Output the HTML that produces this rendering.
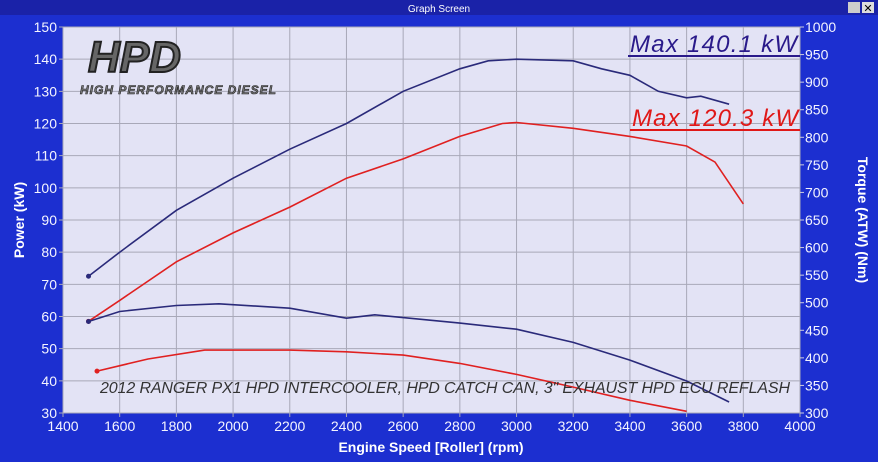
<!DOCTYPE html>
<html><head><meta charset="utf-8"><style>
body{margin:0;width:878px;height:466px;overflow:hidden;background:#fff;font-family:"Liberation Sans",sans-serif}
svg{display:block}
</style></head><body>
<svg id="chart" width="878" height="466">
<rect x="0" y="0" width="878" height="462" fill="#1c2fd0"/>
<rect x="0" y="0" width="878" height="15" fill="#1a22a8"/>
<text x="439" y="12" font-size="10" fill="#fff" text-anchor="middle">Graph Screen</text>
<rect x="848" y="2" width="12" height="11" fill="#ccc"/>
<rect x="862" y="2" width="12" height="11" fill="#ddd"/>
<text x="868" y="12" font-size="11" text-anchor="middle" fill="#000">✕</text>
<rect x="63" y="27" width="737" height="386" fill="#e3e3f5"/>
<g id="grid"></g>
<g id="logo">
<text x="88" y="72" font-size="44" font-weight="bold" font-style="italic" fill="#666" stroke="#222" stroke-width="2">HPD</text>
<text x="80" y="94" font-size="12" font-weight="bold" font-style="italic" fill="#777" stroke="#222" stroke-width="0.6" letter-spacing="1">HIGH PERFORMANCE DIESEL</text>
</g>
<g id="series"></g>
<text x="630" y="52" font-size="24" font-style="italic" fill="#2a1a8a" textLength="167">Max 140.1 kW</text>
<line x1="628" y1="56" x2="800" y2="56" stroke="#2a1a8a" stroke-width="2"/>
<text x="632" y="126" font-size="24" font-style="italic" fill="#e01818" textLength="166">Max 120.3 kW</text>
<line x1="630" y1="130" x2="800" y2="130" stroke="#e01818" stroke-width="2"/>
<text x="100" y="393" font-size="16" font-style="italic" fill="#333" textLength="690">2012 RANGER PX1 HPD INTERCOOLER, HPD CATCH CAN, 3" EXHAUST HPD ECU REFLASH</text>
<g id="axes"></g>
<text x="431" y="452" font-size="14" font-weight="bold" fill="#fff" text-anchor="middle">Engine Speed [Roller] (rpm)</text>
<text transform="translate(24,220) rotate(-90)" font-size="14" font-weight="bold" fill="#fff" text-anchor="middle">Power (kW)</text>
<text transform="translate(858,220) rotate(90)" font-size="14" font-weight="bold" fill="#fff" text-anchor="middle">Torque (ATW) (Nm)</text>
</svg>
<script>
const xTicks=[1400,1600,1800,2000,2200,2400,2600,2800,3000,3200,3400,3600,3800,4000];
const powerTicks=[30,40,50,60,70,80,90,100,110,120,130,140,150];
const torqueTicks=[300,350,400,450,500,550,600,650,700,750,800,850,900,950,1000];
const rpmBluePower=[1490,1600,1800,2000,2200,2400,2600,2800,2900,3000,3200,3300,3400,3500,3600,3650,3750];
const bluePower=[72.5,80,93,103,112,120,130,137,139.5,140,139.5,137,135,130,128,128.5,126];
const rpmRedPower=[1490,1600,1800,2000,2200,2400,2600,2800,2950,3000,3200,3400,3600,3700,3800];
const redPower=[58.5,65,77,86,94,103,109,116,120,120.3,118.5,116,113,108,95];
const rpmBlueTorque=[1490,1600,1800,1950,2200,2400,2500,2800,3000,3200,3400,3600,3750];
const blueTorque=[466,484,495,498,490,472,478,463,452,428,396,358,320];
const rpmRedTorque=[1520,1700,1900,2200,2400,2600,2800,3000,3200,3400,3600];
const redTorque=[376,398,414,414,411,405,390,370,347,323,303];
const L=63,R=800,T=27,B=413,NS="http://www.w3.org/2000/svg";
const xs=r=>L+(r-1400)/2600*(R-L);
const yp=v=>B-(v-30)/120*(B-T);
const yt=v=>B-(v-300)/700*(B-T);
function mk(tag,at,parent){const e=document.createElementNS(NS,tag);for(const k in at)e.setAttribute(k,at[k]);parent.appendChild(e);return e;}
const grid=document.getElementById('grid'),axes=document.getElementById('axes'),ser=document.getElementById('series');
xTicks.forEach(t=>{
 const l=mk('line',{x1:xs(t),x2:xs(t),y1:T,y2:B+4,stroke:'#a8a8b8','stroke-width':1},grid);
 
 
 const tx=mk('text',{x:xs(t),y:B+18,'font-size':14,fill:'#f4f4ff','text-anchor':'middle'},axes);
 tx.textContent=t;
 
 
});
powerTicks.forEach(t=>{
 const l=mk('line',{x1:L-4,x2:R,y1:yp(t),y2:yp(t),stroke:'#a8a8b8','stroke-width':1},grid);
 
 
 const tx=mk('text',{x:L-6,y:yp(t)+5,'font-size':14,fill:'#f4f4ff','text-anchor':'end'},axes);
 tx.textContent=t;
 
 
});
torqueTicks.forEach(t=>{
 const l=mk('line',{x1:R,x2:R+4,y1:yt(t),y2:yt(t),stroke:'#ccd','stroke-width':1},axes);
 
 
 const tx=mk('text',{x:R+5,y:yt(t)+5,'font-size':14,fill:'#f4f4ff'},axes);
 tx.textContent=t;
 
 
});
function line(rpm,vals,yf,color,name){
 const pts=rpm.map((r,i)=>xs(r).toFixed(1)+','+yf(vals[i]).toFixed(1)).join(' ');
 const p=mk('polyline',{points:pts,fill:'none',stroke:color,'stroke-width':1.6},ser);
 
 
 const c=mk('circle',{cx:xs(rpm[0]),cy:yf(vals[0]),r:2.5,fill:color},ser);
 
 
}
line(rpmBluePower,bluePower,yp,'#2a2a7a','blue-power-line');
line(rpmRedPower,redPower,yp,'#e02020','red-power-line');
line(rpmBlueTorque,blueTorque,yt,'#2a2a7a','blue-torque-line');
line(rpmRedTorque,redTorque,yt,'#e02020','red-torque-line');
</script>
</body></html>
